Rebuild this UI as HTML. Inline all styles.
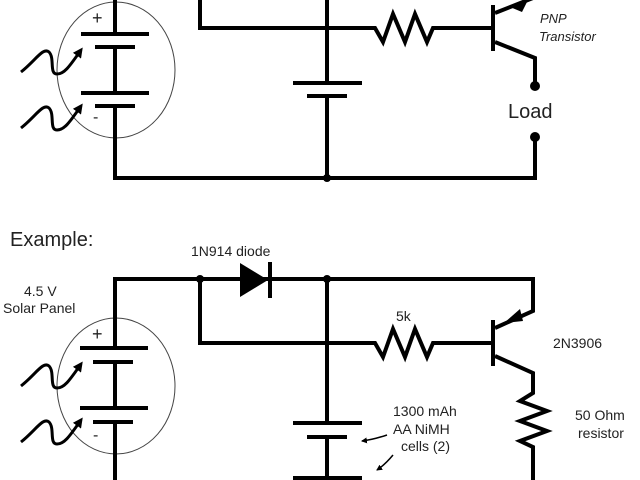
<!DOCTYPE html>
<html><head><style>html,body{margin:0;padding:0;background:#fff}svg{display:block}text{font-family:"Liberation Sans",sans-serif;fill:#222}</style></head><body>
<svg width="640" height="480" viewBox="0 0 640 480" xmlns="http://www.w3.org/2000/svg">
<defs><marker id="ah" markerWidth="10" markerHeight="10" refX="7" refY="5" orient="auto" markerUnits="userSpaceOnUse"><path d="M0,0 L10,5 L0,10 Z" fill="#000"/></marker>
<marker id="sa" markerWidth="6" markerHeight="6" refX="5" refY="3" orient="auto" markerUnits="userSpaceOnUse"><path d="M0,0 L6,3 L0,6 Z" fill="#000"/></marker></defs>
<g stroke="#000" stroke-width="4" fill="none">
<!-- TOP -->
<ellipse cx="116" cy="70" rx="59" ry="68" stroke-width="1" stroke="#444"/>
<path d="M115 0V34M115 47V93M115 106V178H535V137M535 86V58L495 42M200 0V28H375l8 14 10-28 12 28 10-28 12 28 6-14H493M327 0V83M327 96V178"/>
<path d="M81 34H149M95 47H135M81 93H149M95 106H135M293 83H362M307 96H347"/>
<path d="M493 5V51M495 13L533 -2"/>
<path d="M21 72c15-12 22-25 28-20 6 6 0 22 8 22 8 0 14-10 24-24" stroke-width="3" marker-end="url(#ah)"/>
<path d="M21 128c15-12 22-25 28-20 6 6 0 22 8 22 8 0 14-10 24-24" stroke-width="3" marker-end="url(#ah)"/>
<!-- BOTTOM -->
<ellipse cx="116" cy="386" rx="59" ry="68" stroke-width="1" stroke="#444"/>
<path d="M115 480V422M115 408V362M115 348V279H533V311L495 328M200 279V343H375l8 14 10-28 12 28 10-28 12 28 6-14H493M327 279V423M327 437V478"/>
<path d="M80 348H148M93 362H133M80 408H148M93 422H133M293 423H362M307 437H347M293 478H362M270 262V298"/>
<path d="M493 320V366M495 356L533 373V393l-13 8 27 10-27 10 27 10-27 10 13 6V480"/>
<path d="M21 386c15-12 22-25 28-20 6 6 0 22 8 22 8 0 14-10 24-24" stroke-width="3" marker-end="url(#ah)"/>
<path d="M21 442c15-12 22-25 28-20 6 6 0 22 8 22 8 0 14-10 24-24" stroke-width="3" marker-end="url(#ah)"/>
<path d="M387 435C378 438 370 440 362 441" stroke-width="1.5" marker-end="url(#sa)"/>
<path d="M393 455C388 461 383 466 377 470" stroke-width="1.5" marker-end="url(#sa)"/>
</g>
<g fill="#000">
<path d="M510 7L528 0L522 12Z"/>
<path d="M504 323L520 309L523 321Z"/>
<path d="M240 263L268 280L240 297Z"/>
<circle cx="327" cy="178" r="4"/><circle cx="535" cy="86" r="5"/><circle cx="535" cy="137" r="5"/>
<circle cx="200" cy="279" r="4"/><circle cx="327" cy="279" r="4"/>
</g>
<text x="92" y="24" font-size="18">+</text><text x="93" y="122" font-size="16">-</text>
<text x="92" y="340" font-size="18">+</text><text x="93" y="440" font-size="16">-</text>
<text x="540" y="23" font-size="13" font-style="italic">PNP</text>
<text x="539" y="41" font-size="13" font-style="italic">Transistor</text>
<text x="508" y="118" font-size="20">Load</text>
<text x="10" y="246" font-size="20">Example:</text>
<text x="191" y="256" font-size="14">1N914 diode</text>
<text x="24" y="296" font-size="14">4.5 V</text>
<text x="3" y="313" font-size="14">Solar Panel</text>
<text x="396" y="321" font-size="14">5k</text>
<text x="553" y="348" font-size="14">2N3906</text>
<text x="393" y="416" font-size="14">1300 mAh</text>
<text x="393" y="434" font-size="14">AA NiMH</text>
<text x="401" y="451" font-size="14">cells (2)</text>
<text x="575" y="420" font-size="14">50 Ohm</text>
<text x="578" y="438" font-size="14">resistor</text>
</svg>
</body></html>
